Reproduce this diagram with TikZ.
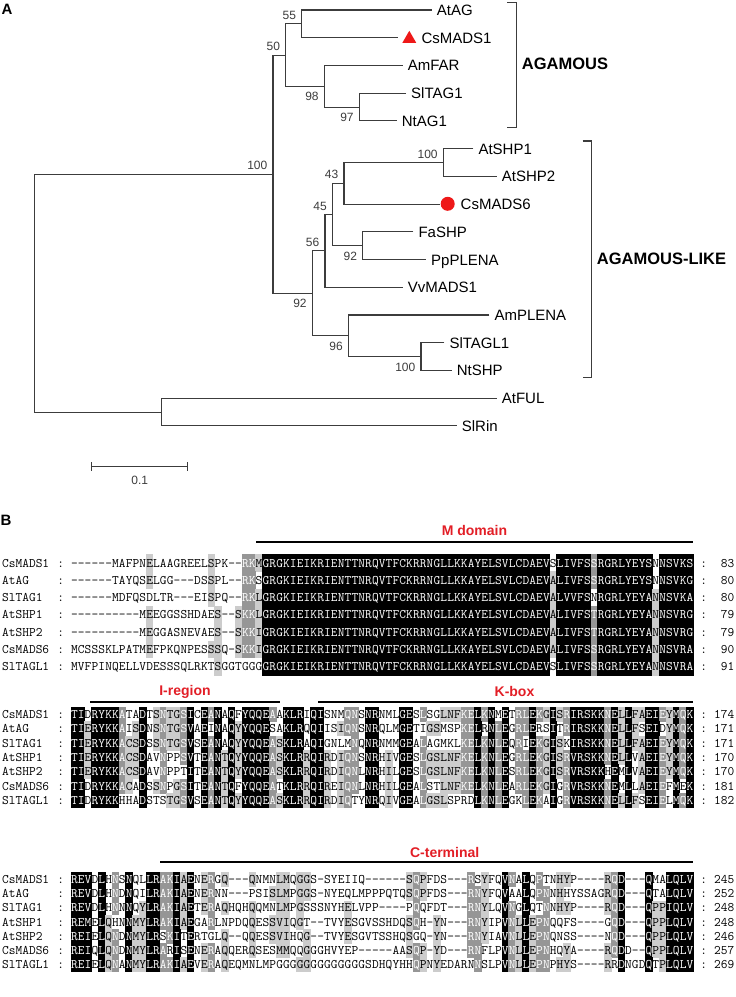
\documentclass[tikz,border=0pt]{standalone}
\usepackage{fontspec}
\newfontfamily\arial{Liberation Sans}
\usetikzlibrary{shapes.geometric}

\definecolor{domred}{RGB}{226,30,38}
\definecolor{mkred}{RGB}{238,24,24}
\definecolor{lgray}{RGB}{204,204,204}
\definecolor{dgray}{RGB}{150,150,150}
\definecolor{treeline}{RGB}{60,60,60}

\newcommand\seqfont{\ttfamily\fontsize{13.03bp}{13bp}\selectfont}

% alignment grid: first column, column width, row height
\def\alnx{71}
\def\alnw{6.84}
\def\alnh{14.3}
\makeatletter
\newcount\alncol
\newcount\alnrowno
\newcommand\alnline[5]{%
  \global\advance\alnrowno by 1
  \node[seqtext,anchor=base west] (name\the\alnrowno) at (2,#1) {#2};
  \node[seqtext] (lcol\the\alnrowno) at (60.7,#1) {:};
  \node[seqtext] (rcol\the\alnrowno) at (703.7,#1) {:};
  \node[seqtext,anchor=base east] (len\the\alnrowno) at (734.5,#1) {#5};
  \alncol=0 \def\alny{#1}%
  \aln@step#3\@nil#40000000000\@nil}
\def\aln@step#1#2\@nil#3#4\@nil{%
  \advance\alncol by 1
  \aln@cell{#1}{#3}%
  \ifx\relax#2\relax
    \let\aln@next\relax
  \else
    \def\aln@next{\aln@step#2\@nil#4\@nil}%
  \fi
  \aln@next}
\def\aln@cell#1#2{%
  \pgfmathsetmacro\aln@x{\alnx+(\the\alncol-0.5)*\alnw}%
  \ifcase#2\relax
    \def\aln@tc{black}%
  \or
    \fill[lgray] (\aln@x-\alnw/2-0.3,\alny-\alnh/2-0.3) rectangle (\aln@x+\alnw/2+0.3,\alny+\alnh/2+0.3);%
    \def\aln@tc{black}%
  \or
    \fill[dgray] (\aln@x-\alnw/2-0.3,\alny-\alnh/2-0.3) rectangle (\aln@x+\alnw/2+0.3,\alny+\alnh/2+0.3);%
    \def\aln@tc{white}%
  \or
    \fill[black] (\aln@x-\alnw/2-0.3,\alny-\alnh/2-0.3) rectangle (\aln@x+\alnw/2+0.3,\alny+\alnh/2+0.3);%
    \def\aln@tc{white}%
  \fi
  \node[seqtext,text=\aln@tc] (r\the\alnrowno-\the\alncol) at (\aln@x,\alny) {#1};}
\makeatother

\begin{document}
\begin{tikzpicture}[x=1bp,y=-1bp,
  branch/.style={line width=1.1bp,draw=treeline},
  taxon/.style={anchor=base west,inner sep=0pt,font=\arial\fontsize{15bp}{15bp}\selectfont,shift={(5,5.4)}},
  bsup/.style={anchor=south east,inner sep=0pt,text=treeline,font=\arial\fontsize{12bp}{12bp}\selectfont,shift={(-5.5,-4)}},
  bsdn/.style={anchor=north east,inner sep=0pt,text=treeline,font=\arial\fontsize{12bp}{12bp}\selectfont,shift={(-5.5,6)}},
  clade/.style={anchor=west,inner sep=0pt,font=\arial\bfseries\fontsize{16.5bp}{16.5bp}\selectfont},
  part/.style={inner sep=0pt,font=\arial\bfseries\fontsize{15bp}{15bp}\selectfont},
  dom/.style={inner sep=0pt,text=domred,font=\arial\bfseries\fontsize{14bp}{14bp}\selectfont},
  domline/.style={line width=2bp},
  seqtext/.style={inner sep=0pt,anchor=base,font=\seqfont,yshift=-4bp}]
\useasboundingbox (0,0) rectangle (736,997);

\node[part] (labA) at (7,9) {A};
\node[part] (labB) at (6,520) {B};

% leaf tips
\coordinate (tAtAG) at (431.7,10);
\coordinate (tCsMADS1) at (398.3,37.7);
\coordinate (tAmFAR) at (402.7,65.5);
\coordinate (tSlTAG1) at (406,93.2);
\coordinate (tNtAG1) at (396.7,120.9);
\coordinate (tAtSHP1) at (473.3,148.7);
\coordinate (tAtSHP2) at (496.7,176.4);
\coordinate (tCsMADS6) at (440,204.1);
\coordinate (tFaSHP) at (413.3,231.8);
\coordinate (tPpPLENA) at (426,259.6);
\coordinate (tVvMADS1) at (402.7,287.3);
\coordinate (tAmPLENA) at (489.3,315);
\coordinate (tSlTAGL1) at (444.3,342.8);
\coordinate (tNtSHP) at (451.7,370.5);
\coordinate (tAtFUL) at (496.7,398.2);
\coordinate (tSlRin) at (456.7,425.9);

% inner nodes
\coordinate (n55) at (301.7,23.85);
\coordinate (n97) at (359.3,107.05);
\coordinate (n98) at (324.3,86.3);
\coordinate (n50) at (285.7,55.1);
\coordinate (n100a) at (443.3,162.55);
\coordinate (n43) at (344,183.3);
\coordinate (n92a) at (362.7,245.7);
\coordinate (n45) at (332.5,214.5);
\coordinate (n56) at (325,250.9);
\coordinate (n100b) at (421,356.65);
\coordinate (n96) at (348.5,335.8);
\coordinate (n92b) at (312.3,293.35);
\coordinate (n100) at (273,174.2);
\coordinate (nOut) at (161.3,412.05);
\coordinate (root) at (34.3,293.1);

\draw[branch] (tAtAG) -| (n55) |- (tCsMADS1);
\draw[branch] (tSlTAG1) -| (n97) |- (tNtAG1);
\draw[branch] (tAmFAR) -| (n98) |- (n97);
\draw[branch] (n55) -| (n50) |- (n98);
\draw[branch] (tAtSHP1) -| (n100a) |- (tAtSHP2);
\draw[branch] (n100a) -| (n43) |- (tCsMADS6);
\draw[branch] (tFaSHP) -| (n92a) |- (tPpPLENA);
\draw[branch] (n43) -| (n45) |- (n92a);
\draw[branch] (n45) -| (n56) |- (tVvMADS1);
\draw[branch] (tSlTAGL1) -| (n100b) |- (tNtSHP);
\draw[branch] (tAmPLENA) -| (n96) |- (n100b);
\draw[branch] (n56) -| (n92b) |- (n96);
\draw[branch] (n50) -| (n100) |- (n92b);
\draw[branch] (tAtFUL) -| (nOut) |- (tSlRin);
\draw[branch] (n100) -| (root) |- (nOut);

\node[bsup] (b55) at (n55) {55};
\node[bsup] (b50) at (n50) {50};
\node[bsdn] (b98) at (n98) {98};
\node[bsdn] (b97) at (n97) {97};
\node[bsup] (b100) at (n100) {100};
\node[bsup] (b100a) at (n100a) {100};
\node[bsup] (b43) at (n43) {43};
\node[bsup] (b45) at (n45) {45};
\node[bsdn] (b92a) at (n92a) {92};
\node[bsup] (b56) at (n56) {56};
\node[bsdn] (b92b) at (n92b) {92};
\node[bsdn] (b96) at (n96) {96};
\node[bsdn] (b100b) at (n100b) {100};

\node[taxon] (AtAG) at (tAtAG) {AtAG};
\node[regular polygon,regular polygon sides=3,fill=mkred,inner sep=0pt,minimum size=16bp] (mk1) at (409.3,38.8) {};
\node[taxon,xshift=18bp] (CsMADS1) at (tCsMADS1) {CsMADS1};
\node[taxon] (AmFAR) at (tAmFAR) {AmFAR};
\node[taxon] (SlTAG1) at (tSlTAG1) {SlTAG1};
\node[taxon] (NtAG1) at (tNtAG1) {NtAG1};
\node[taxon] (AtSHP1) at (tAtSHP1) {AtSHP1};
\node[taxon] (AtSHP2) at (tAtSHP2) {AtSHP2};
\node[circle,fill=mkred,inner sep=0pt,minimum size=14bp] (mk6) at (447.7,203.8) {};
\node[taxon,xshift=15.5bp] (CsMADS6) at (tCsMADS6) {CsMADS6};
\node[taxon] (FaSHP) at (tFaSHP) {FaSHP};
\node[taxon] (PpPLENA) at (tPpPLENA) {PpPLENA};
\node[taxon] (VvMADS1) at (tVvMADS1) {VvMADS1};
\node[taxon] (AmPLENA) at (tAmPLENA) {AmPLENA};
\node[taxon] (SlTAGL1) at (tSlTAGL1) {SlTAGL1};
\node[taxon] (NtSHP) at (tNtSHP) {NtSHP};
\node[taxon] (AtFUL) at (tAtFUL) {AtFUL};
\node[taxon] (SlRin) at (tSlRin) {SlRin};

% clade brackets
\coordinate (agTop) at (507.3,2.7);
\coordinate (agBot) at (507.3,127.7);
\draw[branch] (agTop) -- ++(9.4,0) |- (agBot);
\node[clade] (AG) at (521.7,64.3) {AGAMOUS};
\coordinate (aglTop) at (582.7,141);
\coordinate (aglBot) at (582.7,377.3);
\draw[branch] (aglTop) -- ++(9,0) |- (aglBot);
\node[clade] (AGL) at (596.7,259) {AGAMOUS-LIKE};

% scale bar
\coordinate (sbL) at (91.7,466.7);
\coordinate (sbR) at (187.7,466.7);
\draw[branch] (sbL) -- (sbR);
\draw[branch] ([yshift=4.5bp]sbL) -- ([yshift=-4.5bp]sbL);
\draw[branch] ([yshift=4.5bp]sbR) -- ([yshift=-4.5bp]sbR);
\node[inner sep=0pt,text=treeline,font=\arial\fontsize{12bp}{12bp}\selectfont] (sbT) at (139.7,480) {0.1};

% domains
\node[dom] (mdom) at (474.5,530) {M domain};
\coordinate (mL) at (256,542);
\coordinate (mR) at (693,542);
\draw[domline] (mL) -- (mR);
\node[dom] (ireg) at (185,691.7) {I-region};
\coordinate (iL) at (90,701.7);
\coordinate (iR) at (280,701.7);
\draw[domline] (iL) -- (iR);
\node[dom] (kbox) at (514.5,691.7) {K-box};
\coordinate (kL) at (318,701.7);
\coordinate (kR) at (693,701.7);
\draw[domline] (kL) -- (kR);
\node[dom] (cterm) at (444.7,852.7) {C-terminal};
\coordinate (cL) at (160,862);
\coordinate (cR) at (693,862);
\draw[domline] (cL) -- (cR);

% block 1
\def\alnh{17.3}
\alnline{563}{CsMADS1}{------MAFP NELAAGREEL SPK--RKMGR GKIEIKRIEN TTNRQVTFCK RRNGLLKKAY ELSVLCDAEV SLIVFSSRGR LYEYSNNSVK S}{0000000000 0100000000 1000022133 3333333333 3333333333 3333333333 3333333333 0333332333 3333303333 30}{83}
\alnline{580.3}{AtAG}{------TAYQ SELGG---DS SPL--RKSGR GKIEIKRIEN TTNRQVTFCK RRNGLLKKAY ELSVLCDAEV ALIVFSSRGR LYEYSNNSVK G}{0000000000 0100000000 1000022033 3333333333 3333333333 3333333333 3333333333 1333332333 3333303333 30}{80}
\alnline{597.6}{SlTAG1}{------MDFQ SDLTR---EI SPQ--RKLGR GKIEIKRIEN TTNRQVTFCK RRNGLLKKAY ELSVLCDAEV ALVVFSNRGR LYEYANNSVK A}{0000000000 0000000000 1000022133 3333333333 3333333333 3333333333 3333333333 1333330333 3333313333 30}{80}
\alnline{614.9}{AtSHP1}{---------- MEEGGSSHDA ES--SKKLGR GKIEIKRIEN TTNRQVTFCK RRNGLLKKAY ELSVLCDAEV ALIVFSTRGR LYEYANNSVR G}{0000000000 0100000000 0100122133 3333333333 3333333333 3333333333 3333333333 1333332333 3333313333 30}{79}
\alnline{632.2}{AtSHP2}{---------- MEGGASNEVA ES--SKKIGR GKIEIKRIEN TTNRQVTFCK RRNGLLKKAY ELSVLCDAEV ALIVFSTRGR LYEYANNSVR G}{0000000000 0100000000 0100122133 3333333333 3333333333 3333333333 3333333333 1333332333 3333313333 30}{79}
\alnline{649.5}{CsMADS6}{MCSSSKLPAT MEFPKQNPES SSQ-SKKIGR GKIEIKRIEN TTNRQVTFCK RRNGLLKKAY ELSVLCDAEV ALIVFSSRGR LYEYANNSVR A}{0000000000 0100000000 1100122133 3333333333 3333333333 3333333333 3333333333 1333332333 3333313333 30}{90}
\alnline{666.8}{SlTAGL1}{MVFPINQELL VDESSSQLRK TSGGTGGGGR GKIEIKRIEN TTNRQVTFCK RRNGLLKKAY ELSVLCDAEV SLIVFSSRGR LYEYANNSVR A}{0000000000 0000000000 0100000033 3333333333 3333333333 3333333333 3333333333 0333332333 3333313333 30}{91}

% block 2
\def\alnh{14.35}
\alnline{714.5}{CsMADS1}{TIDRYKKATA DTSNTGSICE ANAQFYQQEA AKLRIQISNM QNSNRNMLGE SLSGLNFKEL KNMETRLEKG ISRIRSKKNE LLFAEIEYMQ K}{3303333200 3012112303 2303033332 0333033000 2203300033 0200111223 2303022321 3123333323 13113321323}{174}
\alnline{728.85}{AtAG}{TIERYKKAIS DNSNTGSVAE INAQYYQQES AKLRQQIISI QNSNRQLMGE TIGSMSPKEL RNLEGRLERS ITRIRSKKNE LLFSEIDYMQ K}{3313333201 3012112303 0303133330 0333033001 2203300033 0011000223 0323022300 3023333323 13103301323}{171}
\alnline{743.2}{SlTAG1}{TIERYKKACS DSSNTGSVSE ANAQYYQQEA SKLRAQIGNL MNQNRNMMGE ALAGMKLKEL KNLEQRIEKG ISKIRSKKNE LLFAEIEYMQ K}{3313333211 3012112303 2303133332 1333033000 0203300033 0200000223 2323020321 3103333323 13113321323}{171}
\alnline{757.55}{AtSHP1}{TIERYKKACS DAVNPPSVTE ANTQYYQQEA SKLRRQIRDI QNSNRHIVGE SLGSLNFKEL KNLEGRLEKG ISRVRSKKNE LLVAEIEYMQ K}{3313333211 3002002303 2313133332 1333133101 2203301033 0211111223 2323022321 3123333323 13013321323}{170}
\alnline{771.9}{AtSHP2}{TIERYKKACS DAVNPPTITE ANTQYYQQEA SKLRRQIRDI QNLNRHILGE SLGSLNFKEL KNLESRLEKG ISRVRSKKHE MLVAEIEYMQ K}{3313333211 3002000303 2313133332 1333133101 2203301033 0211111223 2323022321 3123333303 03013321323}{170}
\alnline{786.25}{CsMADS6}{TIDRYKKACA DSSNPGSITE ANTQFYQQEA TKLRRQIREI QNLNRHILGE ALSTLNFKEL KNLEARLEKG IGRVRSKKNE MLLAEIEFME K}{3303333210 3012012303 2313033332 0333133101 2203301033 0200111223 2323022321 3023333323 03013320303}{181}
\alnline{800.6}{SlTAGL1}{TIDRYKKHHA DSTSTGSVSE ANTQYYQQEA SKLRRQIRDI QTYNRQIVGE ALGSLSPRDL KNLEGKLEKA IGRVRSKKNE LLFSEIELMQ K}{3303333000 3000112303 2313133332 1333133101 2003301033 0211100003 2323002320 3023333323 13103320323}{182}

% block 3
\def\alnh{14.2}
\alnline{879.5}{CsMADS1}{REVDLHNSNQ LLRAKIAENE RGQ---QNMN LMQGGS-SYE IIQ------S QPFDS---RS YFQVNALQPT NHYP----RQ D---QMALQL V}{3330302030 0332231301 2010001000 1101100000 0000000001 2100000020 1003203020 0110000012 30003003333}{245}
\alnline{893.7}{AtAG}{REVDLHNDNQ ILRAKIAENE RNN---PSIS LMPGGS-NYE QLMPPPQTQS QPFDS---RN YFQVAALQPN NHHYSSAGRQ D---QTALQL V}{3330302030 0332231301 2000000001 1101100000 0000000001 2100000022 1003003022 0100000012 30003003333}{252}
\alnline{907.9}{SlTAG1}{REVDLHNNNQ YLRAKIAETE RAQHQHQQMN LMPGSSSNYH ELVPP----P QQFDT---RN YLQVNGLQTN NHYP----RQ D---QPPIQL V}{3330302030 1332231301 2010001000 1101000000 1000000000 2000000022 1003203002 0110000012 30003113333}{248}
\alnline{922.1}{AtSHP1}{REMELQHNNM YLRAKIAEGA RLNPDQQESS VIQGT--TVY ESGVSSHDQS QH-YN---RN YIPVNLLEPN QQFS----GQ D---QPPLQL V}{3330310031 1332231300 2000001001 1101000000 1000000001 2001000022 1003213122 0000000002 30003113333}{248}
\alnline{936.3}{AtSHP2}{REIELQNDNM YLRSKITERT GLQ--QQESS VIHQG--TVY ESGVTSSHQS GQ-YN---RN YIAVNLLEPN QNSS----NQ D---QPPLQL V}{3330312031 1330230300 0010001001 1100100000 1000000001 0001000022 1003213122 0000000002 30003113333}{246}
\alnline{950.5}{CsMADS6}{REIQLQNDNM YLRARISENE RAQQERQSES MMQQGGGHVY EP-----AAS QP-YD---RN FLPVNLLEPN HQYA----RQ DD--QPPLQL V}{3330312031 1332030301 2010001000 1100100000 0000000001 2101000022 0003213122 0010000012 30003113333}{257}
\alnline{964.7}{SlTAGL1}{REIELQNANM YLRAKIAEVE RAQEQMNLMP GGGGGGGGGG GGGSDHQYHH QPNYEDARNN SLPVNLLEPN PHYS----RR DNGDQTPLQL V}{3330312031 1332231301 2010000000 0001100000 0000000000 2101000002 0003213122 0110000010 30003013333}{269}
\end{tikzpicture}
\end{document}
